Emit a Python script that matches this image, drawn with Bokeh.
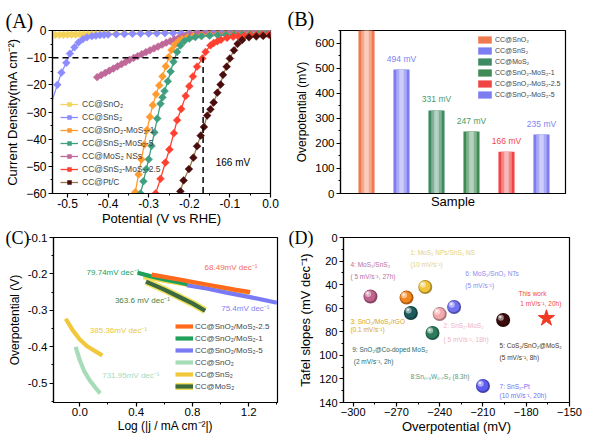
import numpy as np
from bokeh.plotting import figure
from bokeh.layouts import row, column
from bokeh.models import (Range1d, Legend, LegendItem, ColumnDataSource,
                          FixedTicker, NumeralTickFormatter)
from bokeh.transform import dodge
from bokeh.core.properties import value
from bokeh.embed import file_html
from bokeh.resources import INLINE

FONT = "Liberation Sans"
SERIF = "Liberation Serif"

# ---------------- Panel A : polarization curves ----------------
a_names = ["CC@SnO₂", "CC@SnS₂", "CC@SnO₂-MoS₂-1", "CC@SnS₂-MoS₂-5",
           "CC@MoS₂ NSs", "CC@SnS₂-MoS₂-2.5", "CC@Pt/C"]
a_v_sno2 = [-0.53, -0.52, -0.51, -0.50, -0.49, -0.48, -0.47, -0.46, -0.45, -0.44, -0.43, -0.42, -0.41, -0.40,
            -0.38, -0.36, -0.34, -0.32, -0.30, -0.28, -0.26, -0.24, -0.22, -0.20, -0.18, -0.16, -0.14, -0.12,
            -0.10, -0.08, -0.06, -0.04, -0.02, 0.0]
a_j_sno2 = [-1.6, -1.6, -1.6, -1.5, -1.5, -1.5, -1.4, -1.4, -1.4, -1.3, -1.3, -1.3, -1.2, -1.2,
            -1.1, -1.1, -1.0, -1.0, -0.9, -0.9, -0.8, -0.8, -0.7, -0.7, -0.6, -0.6, -0.5, -0.5,
            -0.4, -0.4, -0.3, -0.3, -0.2, -0.2]
a_v_sns2 = [-0.545, -0.525, -0.515, -0.503, -0.494, -0.483, -0.473, -0.462, -0.452, -0.44, -0.43, -0.42, -0.41, -0.40,
            -0.38, -0.36, -0.34, -0.32, -0.30, -0.28, -0.26, -0.24, -0.22, -0.20, -0.18, -0.16, -0.14, -0.12,
            -0.10, -0.08, -0.06, -0.04, -0.02, 0.0]
a_j_sns2 = [-29, -20, -15.5, -11.9, -8.5, -6.2, -4.4, -3.2, -2.5, -2.1, -1.9, -1.7, -1.6, -1.5,
            -1.4, -1.3, -1.2, -1.15, -1.1, -1.05, -1.0, -0.95, -0.9, -0.85, -0.8, -0.75, -0.7, -0.65,
            -0.6, -0.55, -0.5, -0.45, -0.4, -0.35]
a_v_m1 = [-0.333, -0.325, -0.318, -0.311, -0.304, -0.297, -0.290, -0.282, -0.274, -0.266, -0.258, -0.251,
          -0.244, -0.236, -0.227, -0.218, -0.205, -0.19, -0.17, -0.15, -0.13, -0.11, -0.09, -0.07, -0.05, -0.03, -0.01]
a_j_m1 = [-59.5, -53.0, -47.5, -42.0, -36.6, -31.8, -27.5, -23.5, -20.2, -16.9, -13.2, -9.8,
          -7.2, -5.3, -4.0, -3.2, -2.5, -2.1, -1.8, -1.6, -1.5, -1.4, -1.3, -1.2, -1.1, -1.0, -1.0]
a_v_m5 = [-0.320, -0.313, -0.306, -0.300, -0.293, -0.286, -0.279, -0.271, -0.266, -0.261, -0.253, -0.246,
          -0.239, -0.230, -0.222, -0.212, -0.200, -0.185, -0.17, -0.15, -0.13, -0.11, -0.09, -0.07, -0.05, -0.03, -0.01]
a_j_m5 = [-60, -55.5, -51, -47.4, -42.5, -37.5, -32.4, -27, -24.6, -22.3, -18.7, -15.1,
          -11.5, -7.9, -5.5, -3.9, -3.0, -2.4, -2.1, -1.9, -1.7, -1.6, -1.5, -1.4, -1.3, -1.2, -1.1]
a_v_mos2 = [-0.427, -0.417, -0.407, -0.397, -0.387, -0.377, -0.367, -0.357, -0.347, -0.337, -0.327, -0.317,
            -0.307, -0.297, -0.287, -0.277, -0.267, -0.257, -0.247, -0.237, -0.227, -0.217, -0.207, -0.197,
            -0.187, -0.177, -0.167, -0.15, -0.13, -0.11, -0.09, -0.07, -0.05, -0.03, -0.01]
a_j_mos2 = [-17.2, -16.4, -15.6, -14.8, -14.0, -13.2, -12.4, -11.6, -10.8, -10.1, -9.4, -8.7,
            -8.0, -7.3, -6.6, -5.9, -5.2, -4.5, -3.9, -3.3, -2.8, -2.3, -1.9, -1.6,
            -1.4, -1.2, -1.1, -1.0, -0.9, -0.8, -0.7, -0.65, -0.6, -0.55, -0.5]
a_v_m25 = [-0.283, -0.271, -0.259, -0.249, -0.238, -0.230, -0.220, -0.209, -0.200, -0.191, -0.181, -0.168,
           -0.160, -0.148, -0.140, -0.131, -0.122, -0.107, -0.092, -0.08, -0.065, -0.05, -0.035, -0.02, -0.005]
a_j_m25 = [-60, -54.6, -48.6, -43.8, -37.8, -33.0, -28.9, -24.1, -20.5, -16.9, -13.3, -10.3,
           -7.9, -5.5, -4.6, -4.0, -3.4, -2.7, -2.3, -2.1, -1.9, -1.8, -1.7, -1.6, -1.5]
a_v_pt = [-0.222, -0.214, -0.201, -0.190, -0.181, -0.172, -0.164, -0.156, -0.148, -0.140, -0.131, -0.123,
          -0.117, -0.108, -0.100, -0.090, -0.081, -0.070, -0.053, -0.035, -0.018, 0.0]
a_j_pt = [-59.2, -55.2, -51.0, -46.8, -42.6, -38.7, -35.5, -31.3, -29.0, -26.5, -22.9, -19.9,
          -16.3, -13.3, -10.3, -7.3, -4.9, -3.5, -2.5, -2.2, -2.0, -1.8]
a_eta10 = 0.166   # V at -10 mA cm-2 for best sample
a_jref = -10

# ---------------- Panel B : overpotential bars ----------------
b_names = ["CC@SnO₂", "CC@SnS₂", "CC@MoS₂", "CC@SnO₂-MoS₂-1", "CC@SnO₂-MoS₂-2.5", "CC@SnO₂-MoS₂-5"]
b_pos = [1, 2, 3, 4, 5, 6]
b_values = [700, 494, 331, 247, 166, 235]

# ---------------- Panel C : Tafel plots ----------------
c_names = ["CC@SnO₂/MoS₂-2.5", "CC@SnO₂/MoS₂-1", "CC@SnO₂/MoS₂-5", "CC@SnO₂", "CC@SnS₂", "CC@MoS₂"]
c_x_25 = [0.51, 0.70, 0.90, 1.10, 1.21]
c_y_25 = [-0.202, -0.215, -0.229, -0.243, -0.250]
c_x_1 = [0.41, 0.50, 0.60, 0.70, 0.77]
c_y_1 = [-0.197, -0.206, -0.215, -0.223, -0.229]
c_x_5 = [0.76, 0.90, 1.05, 1.20, 1.40]
c_y_5 = [-0.231, -0.240, -0.252, -0.263, -0.279]
c_x_sno2 = [-0.03, 0.0, 0.03, 0.07, 0.11, 0.145]
c_y_sno2 = [-0.40, -0.437, -0.466, -0.492, -0.512, -0.528]
c_x_sns2 = [-0.10, -0.05, 0.0, 0.05, 0.10, 0.16]
c_y_sns2 = [-0.323, -0.355, -0.380, -0.398, -0.410, -0.424]
c_x_mos2 = [0.47, 0.60, 0.70, 0.80, 0.89]
c_y_mos2 = [-0.221, -0.243, -0.262, -0.281, -0.301]
c_x_halo = [0.45, 0.80, 1.20]
c_y_halo = [-0.209, -0.232, -0.256]
c_lbl_text = ["68.49mV dec⁻¹", "79.74mV dec⁻¹", "363.6 mV dec⁻¹", "75.4mV dec⁻¹", "385.36mV dec⁻¹", "731.95mV dec⁻¹"]
c_lbl_x = [0.886, 0.048, 0.249, 1.004, 0.071, 0.159]
c_lbl_y = [-0.181, -0.196, -0.273, -0.296, -0.355, -0.478]

# ---------------- Panel D : comparison ----------------
d_x = [-250, -240, -263, -288, -196, -230, -210, -245, -260]
d_y = [42, 65, 51, 50, 70, 59, 126, 81, 64]
d_this_x = [-166]
d_this_y = [68.49]
d_lbl_text = ["1: MoS₂ NPs/SnS₂ NS", "(10 mV/s⁻¹)", "4: MoS₂/SnS₂", "( 5 mV/s⁻¹, 27h)",
              "6: MoS₂/SnO₂ NTs", "(5 mV/s⁻¹)", "This work", " 1 mV/s⁻¹, 20h)",
              "3: SnO₂/MoS₂/rGO", "(0.1 mV/s⁻¹)", "2: SnS₂-MoS₂", "( 5 mV/s⁻¹,  18h)",
              "5: CoS₂/SnO₂@MoS₂", "(5 mV/s⁻¹, 8h)", "9: SnO₂@Co-doped MoS₂", "(2 mV/s⁻¹, 2h)",
              "8:Sn₀.₃W₀.₇S₂ (8.3h)", "7: SnS₂-Pt", "(10 mV/s⁻¹, 20h)"]
d_lbl_x = [-260.3, -260.3, -301.9, -301.9, -222.2, -222.2, -185.3, -184.1, -301.9, -301.9,
           -237.3, -237.3, -198.5, -198.5, -300.7, -299.6, -260.3, -198.5, -198.5]
d_lbl_y = [12.7, 23.2, 23.2, 33.1, 30.5, 41.0, 47.5, 55.7, 71.3, 77.8,
           74.9, 86.3, 91.4, 101.8, 94.8, 105.5, 117.9, 126.4, 133.8]


def blend(hexc, t, target=255):
    h = hexc.lstrip('#')
    rgb = [int(h[i:i + 2], 16) for i in (0, 2, 4)]
    rgb = [int(c + (target - c) * t) for c in rgb]
    return "#%02x%02x%02x" % tuple(rgb)


def style(p, tick_size="12px", label_size="13px"):
    for ax in list(p.xaxis) + list(p.yaxis):
        ax.axis_line_width = 1.2
        ax.major_tick_in = 0
        ax.major_tick_out = 4
        ax.minor_tick_in = 0
        ax.minor_tick_out = 2
        ax.major_tick_line_width = 1.2
        ax.major_label_text_font = FONT
        ax.major_label_text_font_size = tick_size
        ax.major_label_text_color = "black"
        ax.axis_label_text_font = FONT
        ax.axis_label_text_font_size = label_size
        ax.axis_label_text_font_style = "normal"
        ax.axis_label_text_color = "black"
        ax.major_label_standoff = 2
        ax.axis_label_standoff = 3
    for ax in p.xaxis:
        ax.major_label_standoff = 1
        ax.axis_label_standoff = 0
    p.xgrid.visible = False
    p.ygrid.visible = False
    p.outline_line_color = "black"
    p.outline_line_width = 1.2
    p.outline_line_alpha = 1.0
    p.border_fill_color = "white"
    p.background_fill_color = "white"


def panel_title(p, text, offset, standoff, size="20px"):
    p.title.text = text
    p.title.align = "left"
    p.title.offset = offset
    p.title.standoff = standoff
    p.title.text_font = SERIF
    p.title.text_font_size = size
    p.title.text_font_style = "normal"
    p.title.text_color = "black"


# ===== Panel A =====
pA = figure(width=285, height=228, x_range=Range1d(-0.537, 0.0), y_range=Range1d(-60, 0),
            output_backend="svg", toolbar_location=None,
            min_border_left=52, min_border_right=15, min_border_top=28, min_border_bottom=33)
style(pA)
pA.xaxis.axis_label = "Potential (V vs RHE)"
pA.yaxis.axis_label = "Current Density(mA cm⁻²)"
pA.xaxis.ticker = FixedTicker(ticks=[-0.5, -0.4, -0.3, -0.2, -0.1, 0.0],
                              minor_ticks=[-0.45, -0.35, -0.25, -0.15, -0.05])
pA.xaxis.formatter = NumeralTickFormatter(format="0.0")
pA.yaxis.ticker = FixedTicker(ticks=[0, -10, -20, -30, -40, -50, -60],
                              minor_ticks=[-5, -15, -25, -35, -45, -55])

a_series = [
    (a_v_sno2, a_j_sno2, "#f3d35a", "#f3d35a"),
    (a_v_sns2, a_j_sns2, "#8c8cff", "#8c8cff"),
    (a_v_m1, a_j_m1, "#ff9a2e", "#ff9a2e"),
    (a_v_m5, a_j_m5, "#3f9f80", "#3f9f80"),
    (a_v_mos2, a_j_mos2, "#c0689a", "#c0689a"),
    (a_v_m25, a_j_m25, "#ff4030", "#ff4030"),
    (a_v_pt, a_j_pt, "#9a7a4a", "#4a0c0c"),
]
draw_order = [0, 1, 4, 2, 3, 5, 6]
a_items = [None] * len(a_series)
for i in draw_order:
    v, j, lc, mc = a_series[i]
    rl = pA.line(v, j, line_color=lc, line_width=1.3)
    rs = pA.scatter(v, j, marker="square", angle=np.pi / 4, size=5.5,
                    fill_color=mc, line_color=mc, line_width=0.5)
    a_items[i] = LegendItem(label=a_names[i], renderers=[rl, rs])

pA.line([-0.537, -a_eta10, -a_eta10], [a_jref, a_jref, -60], line_color="black",
        line_width=1.5, line_dash="6 4")
pA.text(x=[-a_eta10 + 0.031], y=[-48.5], text=["%d mV" % round(a_eta10 * 1000)],
        text_font=value(FONT), text_font_size="10px", text_baseline="middle",
        text_color="black")
legA = Legend(items=a_items, location=(8, 6), label_text_font=FONT, label_text_font_size="8.5px",
              glyph_width=18, glyph_height=10, label_height=10, spacing=3, padding=0, margin=0,
              label_standoff=4, border_line_color=None, background_fill_alpha=0)
pA.add_layout(legA)
panel_title(pA, "(A)", -47, -2)

# ===== Panel B =====
pB = figure(width=315, height=228, x_range=Range1d(0.257, 6.686), y_range=Range1d(0, 650),
            output_backend="svg", toolbar_location=None,
            min_border_left=55, min_border_right=35, min_border_top=30, min_border_bottom=33)
style(pB, tick_size="11.5px", label_size="12px")
pB.xaxis.axis_label = "Sample"
pB.xaxis.axis_label_text_font_size = "13px"
pB.xaxis.ticker = FixedTicker(ticks=[])
pB.yaxis.axis_label = "Overpotential (mV)"
pB.yaxis.ticker = FixedTicker(ticks=[0, 100, 200, 300, 400, 500, 600],
                              minor_ticks=[50, 150, 250, 350, 450, 550, 650])
b_colors = ["#f07a50", "#7d7df2", "#3e8a62", "#3f8a55", "#f04545", "#7d7df2"]
b_lbl_colors = ["#f07a50", "#8282f2", "#4a9a70", "#4a9a62", "#f04848", "#8282f2"]
srcB = ColumnDataSource(dict(x=b_pos, top=b_values, c=b_colors,
                             c1=[blend(c, 0.35) for c in b_colors],
                             c2=[blend(c, 0.62) for c in b_colors]))
r_bar = pB.vbar(x='x', top='top', width=0.46, fill_color='c', line_color=None, source=srcB)
pB.vbar(x='x', top='top', width=0.30, fill_color='c1', line_color=None, source=srcB)
pB.vbar(x='x', top='top', width=0.13, fill_color='c2', line_color=None, source=srcB)
b_lbl_idx = [i for i, v in enumerate(b_values) if v <= 650]
pB.text(x=[b_pos[i] for i in b_lbl_idx], y=[b_values[i] for i in b_lbl_idx],
        text=["%d mV" % b_values[i] for i in b_lbl_idx],
        text_color=[b_lbl_colors[i] for i in b_lbl_idx], y_offset=-11,
        text_font=value(FONT), text_font_size="8.5px", text_align="center", text_baseline="middle")
legB = Legend(items=[LegendItem(label=b_names[i], renderers=[r_bar], index=i) for i in range(6)],
              location=(136, 94), label_text_font=FONT, label_text_font_size="7px",
              glyph_width=17, glyph_height=9, label_height=9, spacing=2, padding=0, margin=0,
              label_standoff=2, border_line_color=None, background_fill_alpha=0)
pB.add_layout(legB)
panel_title(pB, "(B)", -53, 1)

# ===== Panel C =====
pC = figure(width=285, height=216, x_range=Range1d(-0.187, 1.404), y_range=Range1d(-0.553, -0.1),
            output_backend="svg", toolbar_location=None,
            min_border_left=53, min_border_right=8, min_border_top=9, min_border_bottom=39)
style(pC, tick_size="11.5px", label_size="12px")
pC.xaxis.axis_label = "Log (|j / mA cm⁻²|)"
pC.yaxis.axis_label = "Overpotential (V)"
pC.xaxis.ticker = FixedTicker(ticks=[0.0, 0.4, 0.8, 1.2], minor_ticks=[-0.2, 0.2, 0.6, 1.0, 1.4])
pC.xaxis.formatter = NumeralTickFormatter(format="0.0")
pC.yaxis.ticker = FixedTicker(ticks=[-0.1, -0.2, -0.3, -0.4, -0.5],
                              minor_ticks=[-0.15, -0.25, -0.35, -0.45, -0.55])
pC.yaxis.formatter = NumeralTickFormatter(format="0.0")
LW = 4.2
pC.line(c_x_halo, c_y_halo, line_color="#f0d850", line_width=LW)
r_c1 = pC.line(c_x_1, c_y_1, line_color="#1fa05a", line_width=LW)
r_c5 = pC.line(c_x_5, c_y_5, line_color="#7a7af5", line_width=LW)
r_c25 = pC.line(c_x_25, c_y_25, line_color="#ff6a1c", line_width=LW)
r_csno2 = pC.line(c_x_sno2, c_y_sno2, line_color="#a6dcb8", line_width=LW)
r_csns2 = pC.line(c_x_sns2, c_y_sns2, line_color="#f0c83a", line_width=LW)
r_cmh = pC.line(c_x_mos2, c_y_mos2, line_color="#f0e060", line_width=LW + 3)
r_cm = pC.line(c_x_mos2, c_y_mos2, line_color="#3a6a3e", line_width=LW)
c_lbl_colors = ["#f26a5a", "#22a05a", "#3f7f45", "#8282f2", "#e8c83c", "#a8d8b8"]
pC.text(x=c_lbl_x, y=c_lbl_y, text=c_lbl_text, text_color=c_lbl_colors,
        text_font=value(FONT), text_font_size="8px", text_baseline="middle")
legC = Legend(items=[LegendItem(label=c_names[0], renderers=[r_c25]),
                     LegendItem(label=c_names[1], renderers=[r_c1]),
                     LegendItem(label=c_names[2], renderers=[r_c5]),
                     LegendItem(label=c_names[3], renderers=[r_csno2]),
                     LegendItem(label=c_names[4], renderers=[r_csns2]),
                     LegendItem(label=c_names[5], renderers=[r_cmh, r_cm])],
              location=(122, 11), label_text_font=FONT, label_text_font_size="8px",
              glyph_width=18, glyph_height=10, label_height=10, spacing=2, padding=0, margin=0,
              label_standoff=2, border_line_color=None, background_fill_alpha=0)
pC.add_layout(legC)
panel_title(pC, "(C)", -48, -20, size="18px")

# ===== Panel D =====
pD = figure(width=315, height=216, x_range=Range1d(-306.7, -150), y_range=Range1d(140, 0),
            output_backend="svg", toolbar_location=None,
            min_border_left=58, min_border_right=31, min_border_top=9, min_border_bottom=42)
style(pD, tick_size="11px", label_size="13px")
pD.xaxis.axis_label = "Overpotential (mV)"
pD.yaxis.axis_label = "Tafel slopes (mV dec⁻¹)"
pD.xaxis.ticker = FixedTicker(ticks=[-300, -270, -240, -210, -180, -150],
                              minor_ticks=[-285, -255, -225, -195, -165])
pD.yaxis.ticker = FixedTicker(ticks=[0, 20, 40, 60, 80, 100, 120, 140],
                              minor_ticks=[10, 30, 50, 70, 90, 110, 130])
d_colors = ["#f2c43a", "#f2a8ac", "#f5861e", "#c0628e", "#3c0a0a", "#7272f2", "#5c5cf2", "#2c7c5c", "#1c5c5c"]
srcD = ColumnDataSource(dict(x=d_x, y=d_y, c=d_colors,
                             dark=[blend(c, 0.3, 0) for c in d_colors],
                             light=[blend(c, 0.55) for c in d_colors],
                             spot=[blend(c, 0.85) for c in d_colors]))
pD.scatter('x', 'y', size=14, fill_color='dark', line_color=None, source=srcD)
pD.scatter(dodge('x', -0.4), dodge('y', -0.5), size=11.5, fill_color='c', line_color=None, source=srcD)
pD.scatter(dodge('x', -1.6), dodge('y', -2.0), size=6, fill_color='light', line_color=None,
           fill_alpha=0.9, source=srcD)
pD.scatter(dodge('x', -2.0), dodge('y', -2.6), size=2.5, fill_color='spot', line_color=None, source=srcD)
pD.scatter(d_this_x, d_this_y, marker="star", size=17, fill_color="#f03a24", line_color="#f03a24")
d_lbl_colors = ["#e2d27e", "#e2d27e", "#b8709e", "#b8709e", "#8a8af0", "#8a8af0", "#f04a3a", "#f04a3a",
                "#d8a420", "#d8a420", "#f2b2c2", "#f2b2c2", "#4a3a10", "#4a3a10", "#1c6a6a", "#1c6a6a",
                "#4a9a8a", "#7070f0", "#7070f0"]
pD.text(x=d_lbl_x, y=d_lbl_y, text=d_lbl_text, text_color=d_lbl_colors,
        text_font=value(FONT), text_font_size="6.5px", text_baseline="middle")
panel_title(pD, "(D)", -55, -20, size="18px")

layout = column(row(pA, pB), row(pC, pD))
open("out.html", "w").write(file_html(layout, INLINE))
